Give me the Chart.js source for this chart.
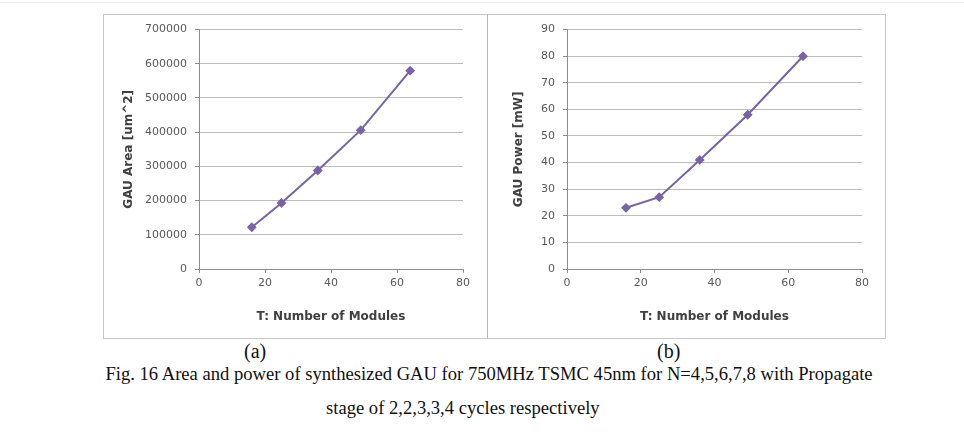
<!DOCTYPE html>
<html>
<head>
<meta charset="utf-8">
<script src="https://cdn.jsdelivr.net/npm/chart.js@4.4.0/dist/chart.umd.min.js"></script>
<style>
  body { margin: 0; background: #fff; width: 964px; height: 447px; position: relative; overflow: hidden; }
  .topline { position: absolute; left: 0; top: 2px; width: 964px; height: 1px; background: #ececec; }
  .box { position: absolute; left: 103px; top: 14px; width: 781px; height: 323px; border: 1px solid #c9c9c9; }
  .divider { position: absolute; left: 487px; top: 14px; width: 1px; height: 324px; background: #b9b9b9; }
  .chart { position: absolute; top: 15px; height: 322px; }
  #areaWrap { left: 104px; width: 382px; }
  #powerWrap { left: 488px; width: 396px; }
  .cap { position: absolute; font-family: "Liberation Serif", "Times New Roman", serif; color: #111; white-space: nowrap; font-size: 18.6px; }
</style>
</head>
<body>
<div class="topline"></div>
<div class="box"></div>
<div class="divider"></div>
<div class="chart" id="areaWrap"><canvas id="areaChart"></canvas></div>
<div class="chart" id="powerWrap"><canvas id="powerChart"></canvas></div>
<div class="cap" style="left:244px; top:340px; font-size:20px;">(a)</div>
<div class="cap" style="left:657px; top:340px; font-size:20px;">(b)</div>
<div class="cap" style="left:89px; top:363px; width:800px; text-align:center;">Fig. 16 Area and power of synthesized GAU for 750MHz TSMC 45nm for N=4,5,6,7,8 with Propagate</div>
<div class="cap" style="left:326px; top:397px;">stage of 2,2,3,3,4 cycles respectively</div>

<script>
// data
const modules = [16, 25, 36, 49, 64];
const areaValues = [122000, 193000, 288000, 406000, 580000];
const powerValues = [23, 27, 41, 58, 80];

const xTicks = [0, 20, 40, 60, 80];
const areaTicks = [0, 100000, 200000, 300000, 400000, 500000, 600000, 700000];
const powerTicks = [0, 10, 20, 30, 40, 50, 60, 70, 80, 90];

const lineColor = '#7863a8';
const tickFont = { family: 'DejaVu Sans', size: 11 };
const titleFont = { family: 'DejaVu Sans', size: 12, weight: 'bold' };

function makeChart(id, values, yTicks, yTitle, yWidth, yTitlePad, rightPad) {
    const ctx = document.getElementById(id);
    return new Chart(ctx, {
        type: 'scatter',
        data: {
            datasets: [{
                data: modules.map((m, i) => ({ x: m, y: values[i] })),
                showLine: true,
                borderColor: lineColor,
                backgroundColor: lineColor,
                borderWidth: 2,
                pointStyle: 'rectRot',
                pointRadius: 3.5,
                tension: 0
            }]
        },
        options: {
            responsive: true,
            maintainAspectRatio: false,
            animation: false,
            layout: { padding: { left: 0, top: 12, right: rightPad, bottom: 0 } },
            plugins: { legend: { display: false }, tooltip: { enabled: false } },
            scales: {
                x: {
                    type: 'linear',
                    min: xTicks[0],
                    max: xTicks[xTicks.length - 1],
                    afterBuildTicks: s => { s.ticks = xTicks.map(v => ({ value: v })); },
                    afterFit: s => { s.height = 68; },
                    grid: { drawOnChartArea: false, drawTicks: true, tickLength: 4, color: '#8c8c8c' },
                    border: { display: true, color: '#8c8c8c' },
                    ticks: { font: tickFont, color: '#595959', padding: 4, maxRotation: 0, callback: v => String(v) },
                    title: { display: true, text: 'T: Number of Modules', font: titleFont, color: '#404040', padding: { top: 0, bottom: 13 } }
                },
                y: {
                    type: 'linear',
                    min: yTicks[0],
                    max: yTicks[yTicks.length - 1],
                    afterBuildTicks: s => { s.ticks = yTicks.map(v => ({ value: v })); },
                    afterFit: s => { s.width = yWidth; },
                    grid: { color: '#bdbdbd', tickLength: 4, tickColor: '#8c8c8c' },
                    border: { display: true, color: '#8c8c8c' },
                    ticks: { font: tickFont, color: '#595959', padding: 8, callback: v => String(v) },
                    title: { display: true, text: yTitle, font: titleFont, color: '#404040', padding: { top: yTitlePad, bottom: 0 } }
                }
            }
        }
    });
}

document.addEventListener('DOMContentLoaded', () => {
    makeChart('areaChart', areaValues, areaTicks, 'GAU Area [um^2]', 95, 18, 23);
    makeChart('powerChart', powerValues, powerTicks, 'GAU Power [mW]', 79, 24, 22);
});
</script>
</body>
</html>
